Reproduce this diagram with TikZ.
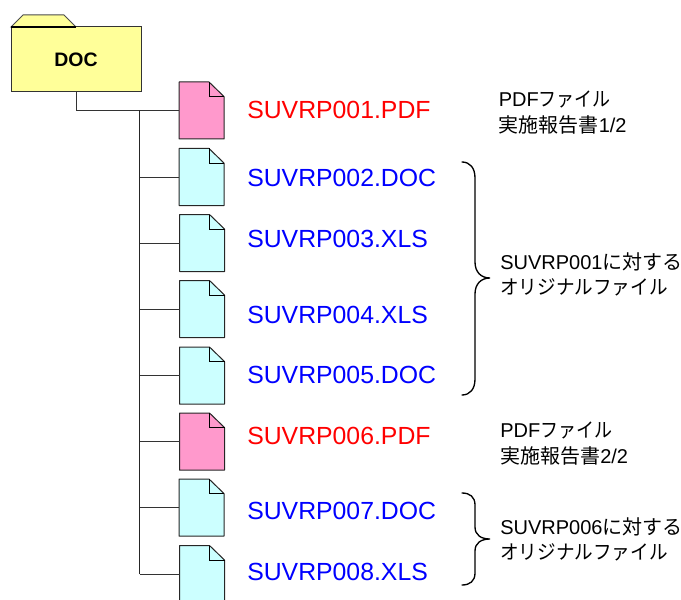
\documentclass[tikz,border=0pt]{standalone}
\usepackage{graphicx}
\usepackage{fontspec}
\setmainfont{Liberation Sans}
\newfontfamily\cjk{Noto Sans CJK JP}
\newcommand{\fsz}[1]{\fontsize{#1}{#1}\selectfont}
\newcommand{\kana}[2][0.93]{\scalebox{#1}[1]{\cjk #2}}
\tikzset{
  conn/.style={draw=black!80,line width=0.75pt},
  trunk/.style={draw=black!85,line width=0.9pt},
  brace/.style={draw=black,line width=1pt,line cap=round},
  filebox/.style={minimum width=33.75pt,minimum height=42.75pt,inner sep=0pt,outer sep=0pt},
  fname/.style={anchor=west,inner sep=0pt,font=\fsz{18.6pt}},
  note/.style={anchor=west,inner sep=0pt,align=left,font=\fsz{15pt}},
  folderbox/.style={minimum width=97.5pt,minimum height=48.75pt,inner sep=0pt,outer sep=0pt,draw=black!80,line width=0.75pt,fill=folderc,font=\bfseries\fsz{14.6pt}},
}
\definecolor{folderc}{HTML}{FFFF99}
\definecolor{pinkc}{HTML}{FF99CC}
\definecolor{cyanc}{HTML}{CCFFFF}
\newcommand{\filedoc}[3]{% name, centre, colour
  \node[filebox] (#1) at (#2) {};
  \draw[black!85,line width=0.75pt,fill=#3,line join=round]
    (#1.north west) -- ([xshift=-11.25pt]#1.north east) -- ([yshift=-10.9pt]#1.north east)
    -- (#1.south east) -- (#1.south west) -- cycle;
  \draw[black,line width=0.75pt,line join=miter]
    ([xshift=-11.25pt]#1.north east) -- ([xshift=-11.25pt,yshift=-10.9pt]#1.north east) -- ([yshift=-10.9pt]#1.north east);
}
\begin{document}
\begin{tikzpicture}[x=0.75pt,y=-0.75pt]
\useasboundingbox (0,0) rectangle (681,599);
% folder
\draw[black!70,line width=0.75pt,fill=folderc] (11,27) -- (23,15) -- (64,15) -- (76,27) -- cycle;
\node[folderbox] (folder) at (76,59.5) {DOC};
\draw[black,line width=0.9pt] (11,27) -- (76,27);
% files
\filedoc{d1}{201.5,110.5}{pinkc}
\filedoc{d2}{201.5,177}{cyanc}
\filedoc{d3}{202,243}{cyanc}
\filedoc{d4}{202,309}{cyanc}
\filedoc{d5}{202,375.5}{cyanc}
\filedoc{d6}{202,441.5}{pinkc}
\filedoc{d7}{201.5,507.5}{cyanc}
\filedoc{d8}{202,574}{cyanc}
% connectors
\coordinate (ttop) at (139.5,110.5);
\coordinate (tbot) at (139.5,574);
\draw[conn] (folder.south) |- (d1.west);
\draw[trunk] (ttop) -- (tbot);
\foreach \n in {d2,d3,d4,d5,d6,d7,d8}
  \draw[conn] (\n.west -| ttop) -- (\n.west);
% file names
\node[fname,text=red] (n1) at (247,110) {SUVRP001.PDF};
\node[fname,text=blue] (n2) at (247,178) {SUVRP002.DOC};
\node[fname,text=blue] (n3) at (247,239) {SUVRP003.XLS};
\node[fname,text=blue] (n4) at (247,315) {SUVRP004.XLS};
\node[fname,text=blue] (n5) at (247,375) {SUVRP005.DOC};
\node[fname,text=red] (n6) at (247,436) {SUVRP006.PDF};
\node[fname,text=blue] (n7) at (247,511) {SUVRP007.DOC};
\node[fname,text=blue] (n8) at (247,572) {SUVRP008.XLS};
% notes
\node[note] (a1) at (498.5,99) {PDF\kana[0.9]{ファイル}};
\node[note] (a2) at (498.5,125) {{\cjk 実施報告書}1/2};
\node[note] (b1) at (500,262) {SUVRP001{\cjk に対する}};
\node[note] (b2) at (500,287) {\kana{オリジナルファイル}};
\node[note] (c1) at (500,430) {PDF\kana[0.9]{ファイル}};
\node[note] (c2) at (500,456) {{\cjk 実施報告書}2/2};
\node[note] (e1) at (500,527) {SUVRP006{\cjk に対する}};
\node[note] (e2) at (500,552) {\kana{オリジナルファイル}};
% braces
\draw[brace] (462,162) .. controls (470,162) and (475,168) .. (475,178)
  -- (475,262) .. controls (475,272) and (481,278) .. (490,278)
  .. controls (481,278) and (475,284) .. (475,294)
  -- (475,379) .. controls (475,389) and (470,395) .. (462,395);
\draw[brace] (462,493) .. controls (470,493) and (475,497) .. (475,505)
  -- (475,527) .. controls (475,535) and (481,539) .. (490,539)
  .. controls (481,539) and (475,543) .. (475,551)
  -- (475,573) .. controls (475,581) and (470,585) .. (462,585);
\end{tikzpicture}
\end{document}
